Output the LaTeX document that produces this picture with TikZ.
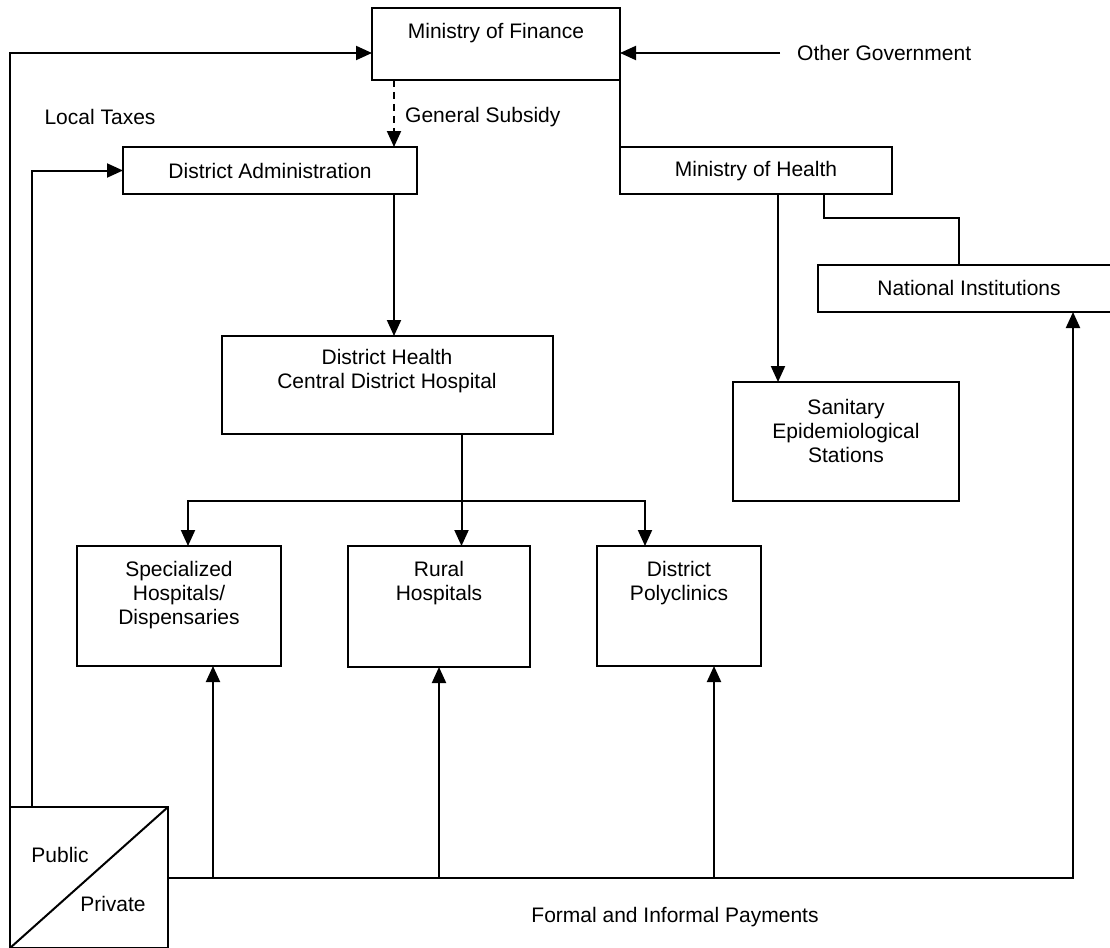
\documentclass[tikz,border=0pt]{standalone}
\usepackage{fontspec}
\setmainfont{Liberation Sans}
\usetikzlibrary{arrows.meta}
\tikzset{
  lw/.style={line width=2pt},
  box/.style={draw, lw, rectangle, inner sep=0pt, outer sep=0pt},
  txt/.style={font=\fontsize{21}{24}\selectfont, align=center, inner sep=0pt},
  arr/.style={lw, -{Triangle[length=16pt,width=14pt]}},
  conn/.style={lw},
  dashline/.style={dash pattern=on 7pt off 5pt}
}
\begin{document}
\begin{tikzpicture}[x=1pt,y=-1pt]
\useasboundingbox (0,0) rectangle (1110,947);
% boxes
\node[box, minimum width=248pt, minimum height=72pt] (fin) at (496,44) {};
\node[box, minimum width=294pt, minimum height=47pt] (dadm) at (270,170.5) {};
\node[box, minimum width=272pt, minimum height=47pt] (moh) at (756,170.5) {};
\node[box, minimum width=302pt, minimum height=47pt] (nat) at (969,288.5) {};
\node[box, minimum width=331pt, minimum height=98pt] (dh) at (387.5,385) {};
\node[box, minimum width=226pt, minimum height=119pt] (san) at (846,441.5) {};
\node[box, minimum width=204pt, minimum height=120pt] (spec) at (179,606) {};
\node[box, minimum width=182pt, minimum height=121pt] (rural) at (439,606.5) {};
\node[box, minimum width=164pt, minimum height=120pt] (poly) at (679,606) {};
\node[box, minimum width=158pt, minimum height=141pt] (pp) at (89,877.5) {};
% texts
\node[txt] (finT) at (496,33) {Ministry of Finance};
\node[txt, anchor=west] (og) at (797,53) {Other Government};
\node[txt] (lt) at (100,117) {Local Taxes};
\node[txt, anchor=west] (gsT) at (405,117) {General Subsidy};
\node[txt] (dadmT) at (270,171) {District Administration};
\node[txt] (mohT) at (756,171) {Ministry of Health};
\node[txt] (natT) at (969,288) {National Institutions};
\node[txt] (dhT) at (387,371) {District Health\\Central District Hospital};
\node[txt] (sanT) at (846,431) {Sanitary\\Epidemiological\\Stations};
\node[txt] (specT) at (179,595) {Specialized\\Hospitals/\\Dispensaries};
\node[txt] (ruralT) at (439,583) {Rural\\Hospitals};
\node[txt] (polyT) at (679,583) {District\\Polyclinics};
\node[txt] (pubT) at (60,855) {Public};
\node[txt] (privT) at (113,904) {Private};
\node[txt] (fip) at (675,917) {Formal and Informal Payments};
% public/private diagonal
\draw[conn] (pp.south west) -- (pp.north east);
% connectors
\draw[arr] (pp.north west) |- ([yshift=-9pt]fin.west);
\draw[arr] ([xshift=-17pt]og.west) -- (fin.east |- og.west);
\coordinate (gs) at ([xshift=124pt]dadm.north);
\draw[arr, dashline] (gs |- fin.south) -- (gs);
\draw[conn] (fin.south east) -- (moh.north west);
\draw[arr] ([xshift=22pt]pp.north west) |- (dadm.west);
\draw[arr] (gs |- dadm.south) -- (gs |- dh.north);
\coordinate (m1) at ([xshift=22pt]moh.south);
\draw[arr] (m1) -- (m1 |- san.north);
\coordinate (m2) at ([xshift=68pt]moh.south);
\draw[conn] (m2) -- ++(0,24) -| ([xshift=-10pt]nat.north);
\coordinate (d1) at ([xshift=74pt]dh.south);
\draw[arr] (d1) -- (d1 |- rural.north);
\coordinate (br) at ([yshift=-67pt]d1);
\draw[arr] (br) -| ([xshift=9pt]spec.north);
\draw[arr] (br) -| ([xshift=-34pt]poly.north);
\coordinate (s1) at ([xshift=34pt]spec.south);
\draw[arr] (s1 |- pp.east) -- (s1);
\draw[arr] (rural.south |- pp.east) -- (rural.south);
\coordinate (p1) at ([xshift=35pt]poly.south);
\draw[arr] (p1 |- pp.east) -- (p1);
\coordinate (n2) at ([xshift=104pt]nat.south);
\draw[arr] (pp.east) -| (n2);
\end{tikzpicture}
\end{document}
